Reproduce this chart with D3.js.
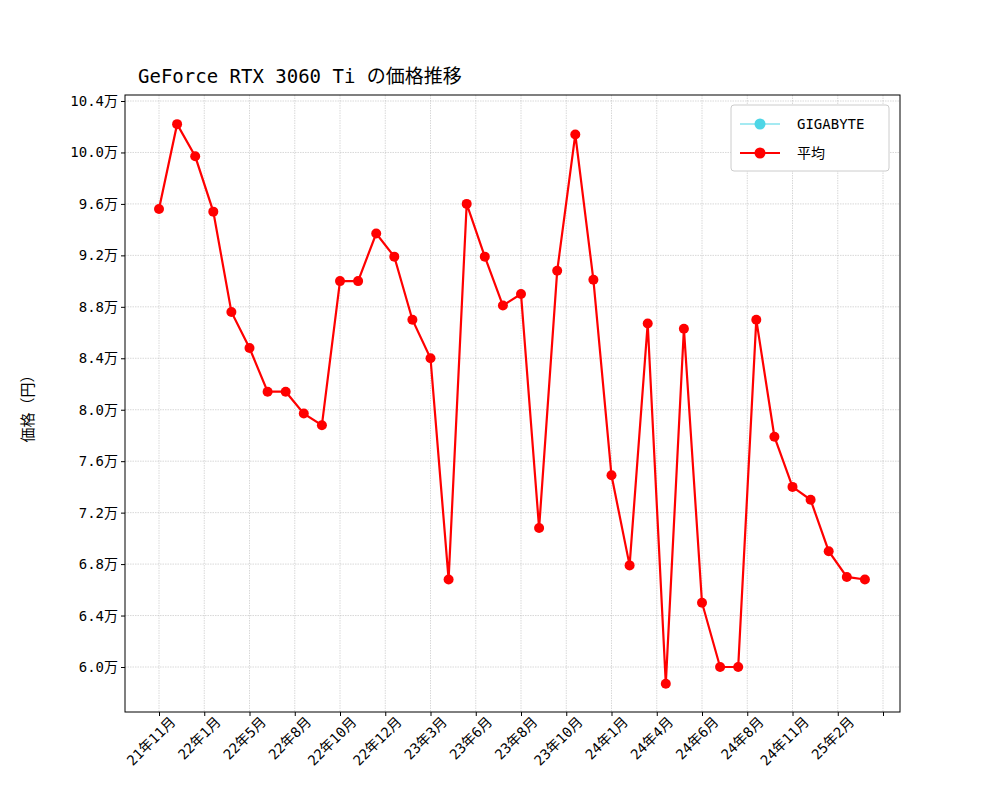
<!DOCTYPE html>
<html><head><meta charset="utf-8">
<script src="https://cdn.jsdelivr.net/npm/d3@7"></script>
<style>body{margin:0;background:#fff}text{font-family:"DejaVu Sans Mono","Noto Sans CJK JP",monospace}</style>
</head><body><svg id="c" width="1000" height="800"></svg>
<script>
const avgValues=[9.56,10.22,9.97,9.54,8.76,8.48,8.14,8.14,7.97,7.88,9.0,9.0,9.37,9.19,8.70,8.40,6.68,9.60,9.19,8.81,8.90,7.08,9.08,10.14,9.01,7.49,6.79,8.67,5.87,8.63,6.50,6.0,6.0,8.70,7.79,7.40,7.30,6.90,6.70,6.68];
const tickLabels=["21年11月","22年1月","22年5月","22年8月","22年10月","22年12月","23年3月","23年6月","23年8月","23年10月","24年1月","24年4月","24年6月","24年8月","24年11月","25年2月",""];
const yTicks=[6.0,6.4,6.8,7.2,7.6,8.0,8.4,8.8,9.2,9.6,10.0,10.4];
const svg=d3.select("#c");
const L=125,R=900,T=95,B=712;
const x=d3.scaleLinear().domain([0,40]).range([159,883]);
const y=d3.scaleLinear().domain([6.0,10.4]).range([667,101]);
const fs="14px";
svg.append("g").selectAll("line").data(tickLabels).join("line")
 .attr("x1",(d,i)=>x(i*2.5)).attr("x2",(d,i)=>x(i*2.5)).attr("y1",T).attr("y2",B)
 .attr("stroke","#b0b0b0").attr("stroke-width",0.5).attr("stroke-dasharray","1.5,1");
svg.append("g").selectAll("line").data(yTicks).join("line")
 .attr("x1",L).attr("x2",R).attr("y1",d=>y(d)).attr("y2",d=>y(d))
 .attr("stroke","#b0b0b0").attr("stroke-width",0.5).attr("stroke-dasharray","1.5,1");
const xa=d3.axisBottom(x).tickValues(d3.range(17).map(i=>i*2.5)).tickFormat((d,i)=>tickLabels[i]).tickSizeOuter(0).tickSize(4);
const gx=svg.append("g").attr("transform",`translate(0,${B})`).call(xa);
gx.select(".domain").remove();
gx.selectAll("text").style("font-size",fs).attr("text-anchor","end").attr("dx","0.3em").attr("dy","0.9em").attr("transform","rotate(-45)").attr("fill","#000");
const ya=d3.axisLeft(y).tickValues(yTicks).tickFormat(d=>d.toFixed(1)+"万").tickSize(4);
const gy=svg.append("g").attr("transform",`translate(${L},0)`).call(ya);
gy.select(".domain").remove();
gy.selectAll("text").style("font-size",fs).attr("fill","#000");
svg.append("rect").attr("x",L).attr("y",T).attr("width",R-L).attr("height",B-T).attr("fill","none").attr("stroke","#000");
svg.append("path").datum(avgValues).attr("fill","none").attr("stroke","#ff0000").attr("stroke-width",2.2)
 .attr("d",d3.line().x((d,i)=>x(i)).y(d=>y(d)));
svg.append("g").selectAll("circle").data(avgValues).join("circle")
 .attr("cx",(d,i)=>x(i)).attr("cy",d=>y(d)).attr("r",5).attr("fill","#ff0000");
svg.append("text").attr("x",L+13).attr("y",83).text("GeForce RTX 3060 Ti の価格推移").style("font-size","19px");
svg.append("text").attr("transform","translate(33,405) rotate(-90)").attr("text-anchor","middle").text("価格（円）").style("font-size","15px");
const lg=svg.append("g");
lg.append("rect").attr("x",731).attr("y",105).attr("width",158).attr("height",66).attr("rx",3).attr("fill","#fff").attr("stroke","#ccc");
lg.append("line").attr("x1",740).attr("x2",780).attr("y1",124).attr("y2",124).attr("stroke","#4dd6e6").attr("stroke-width",1.2);
lg.append("circle").attr("cx",760).attr("cy",124).attr("r",5.5).attr("fill","#4dd6e6");
lg.append("text").attr("x",797).attr("y",129).text("GIGABYTE").style("font-size",fs);
lg.append("line").attr("x1",740).attr("x2",780).attr("y1",153).attr("y2",153).attr("stroke","#ff0000").attr("stroke-width",2.2);
lg.append("circle").attr("cx",760).attr("cy",153).attr("r",5.5).attr("fill","#ff0000");
lg.append("text").attr("x",797).attr("y",158).text("平均").style("font-size",fs);
</script></body></html>
